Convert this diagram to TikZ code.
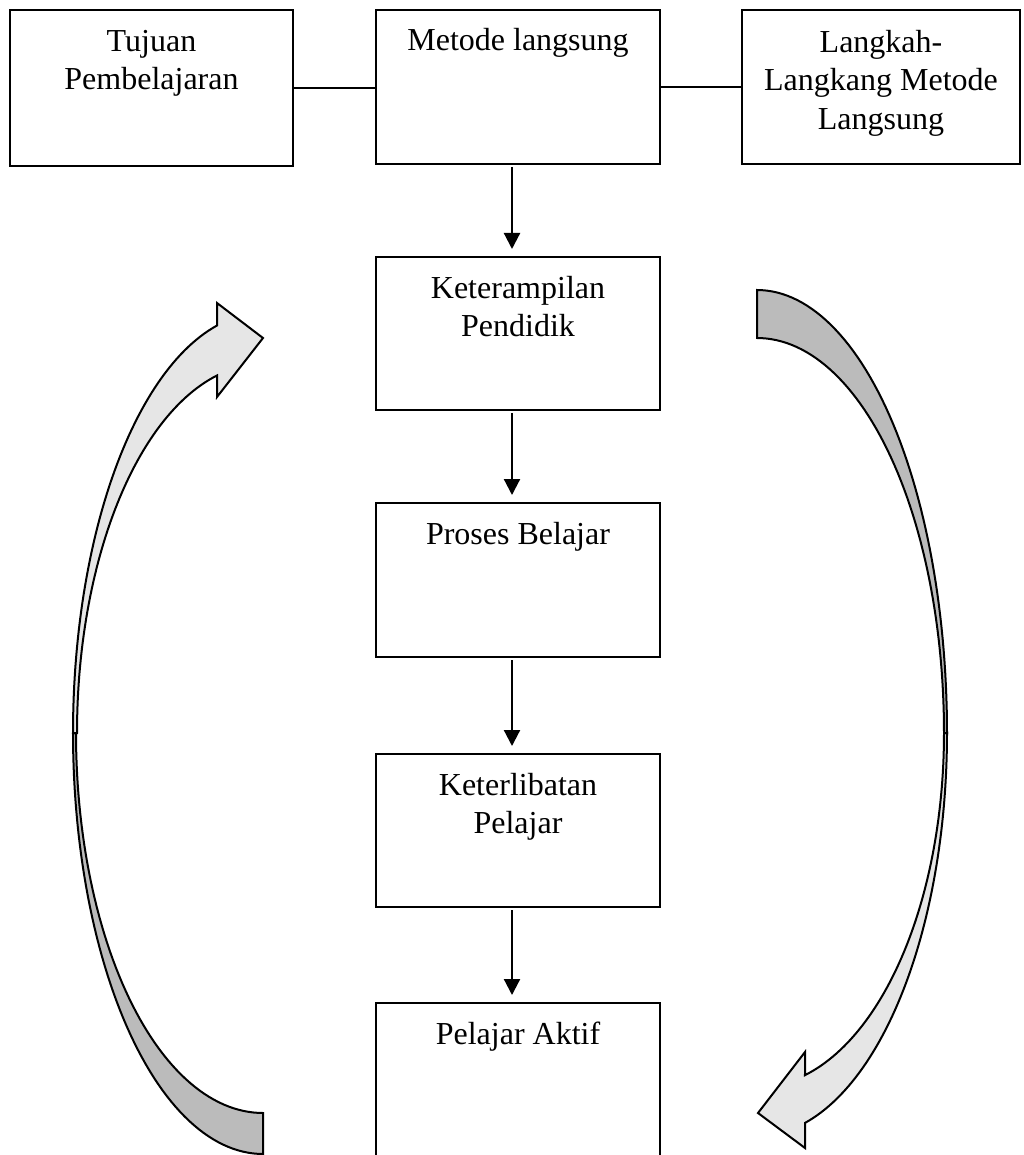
\documentclass[tikz,border=0pt]{standalone}
\usepackage{fontspec}
\setmainfont{Liberation Serif}
\usetikzlibrary{arrows.meta}
\definecolor{lightg}{HTML}{E6E6E6}
\definecolor{darkg}{HTML}{BBBBBB}
\begin{document}
\begin{tikzpicture}[x=1pt,y=-1pt,
  box/.style={draw,line width=1.8pt,rectangle,inner sep=0pt,outer sep=0pt,anchor=north west},
  txt/.style={font=\fontsize{32}{38.5}\selectfont,align=center,inner sep=0pt,anchor=north},
  conn/.style={line width=1.8pt},
  flow/.style={line width=2.2pt,-{Triangle[length=16pt,width=16pt]},shorten >=8pt,shorten <=3pt},
  band/.style={draw,line width=2pt,line join=miter}]
\useasboundingbox (0,0) rectangle (1023,1155);
\clip (0,0) rectangle (1023,1155);

% boxes
\node[box,minimum width=283pt,minimum height=156pt] (tujuan) at (10,10) {};
\node[box,minimum width=284pt,minimum height=154pt] (metode) at (376,10) {};
\node[box,minimum width=278pt,minimum height=154pt] (langkah) at (742,10) {};
\node[box,minimum width=284pt,minimum height=153pt] (ket) at (376,257) {};
\node[box,minimum width=284pt,minimum height=154pt] (proses) at (376,503) {};
\node[box,minimum width=284pt,minimum height=153pt] (libat) at (376,754) {};
\node[box,minimum width=284pt,minimum height=170pt] (aktif) at (376,1003) {};

% texts
\node[txt] (tujuanT) at ([yshift=-20pt]tujuan.north) {Tujuan\\Pembelajaran};
\node[txt] (metodeT) at ([yshift=-18pt]metode.north) {Metode langsung};
\node[txt] (langkahT) at ([yshift=-20pt]langkah.north) {Langkah-\\Langkang Metode\\Langsung};
\node[txt] (ketT) at ([yshift=-19pt]ket.north) {Keterampilan\\Pendidik};
\node[txt] (prosesT) at ([yshift=-19pt]proses.north) {Proses Belajar};
\node[txt] (libatT) at ([yshift=-19pt]libat.north) {Keterlibatan\\Pelajar};
\node[txt] (aktifT) at ([yshift=-19pt]aktif.north) {Pelajar Aktif};

% connectors
\draw[conn] (tujuan.east) -- (tujuan.east -| metode.west);
\draw[conn] (metode.east) -- (metode.east -| langkah.west);
\draw[flow] ([xshift=-6pt]metode.south) -- ([xshift=-6pt]ket.north);
\draw[flow] ([xshift=-6pt]ket.south) -- ([xshift=-6pt]proses.north);
\draw[flow] ([xshift=-6pt]proses.south) -- ([xshift=-6pt]libat.north);
\draw[flow] ([xshift=-6pt]libat.south) -- ([xshift=-6pt]aktif.north);

% left curved arrow
\draw[band,fill=darkg] plot[domain=90:180,samples=60] ({263+190*cos(\x)},{733+421*sin(\x)})
  -- plot[domain=180:90,samples=60] ({263+187*cos(\x)},{733+380*sin(\x)}) -- cycle;
\draw[band,fill=lightg] plot[domain=180:256,samples=60] ({263+190*cos(\x)},{733+420*sin(\x)})
  -- (217,303) -- (263,338) -- (217,397)
  -- plot[domain=255.7:180,samples=60] ({263+186*cos(\x)},{733+369*sin(\x)}) -- cycle;

% right curved arrow
\draw[band,fill=darkg] plot[domain=-90:0,samples=60] ({757+190*cos(\x)},{733+443*sin(\x)})
  -- plot[domain=0:-90,samples=60] ({757+187*cos(\x)},{733+395*sin(\x)}) -- cycle;
\draw[band,fill=lightg] plot[domain=0:75.37,samples=60] ({757+190*cos(\x)},{733+403*sin(\x)})
  -- (805,1148) -- (758,1113) -- (805,1052)
  -- plot[domain=75.13:0,samples=60] ({757+187*cos(\x)},{733+354*sin(\x)}) -- cycle;
\end{tikzpicture}
\end{document}
